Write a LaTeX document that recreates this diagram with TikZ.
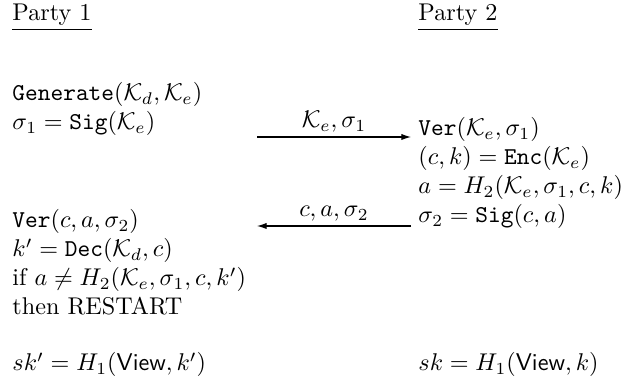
\documentclass[tikz,border=0pt]{standalone}
\usetikzlibrary{arrows.meta}
\tikzset{txt/.style={anchor=base west,inner sep=0pt},
  lbl/.style={anchor=base,inner sep=0pt},
  msg/.style={-{Latex[length=4pt,width=2.6pt]},line width=.45pt}}

\begin{document}
\begin{tikzpicture}[x=.4132pt,y=.4132pt,font=\normalsize]
  \useasboundingbox (0,0) rectangle (626,383);
  % column heads
  \node[txt] (p1) at (12,362) {\underline{Party 1}};
  \node[txt] (p2) at (418,362) {\underline{Party 2}};
  % party 1
  \node[txt] (gen) at (12,282) {$\texttt{Generate}(\mathcal{K}_d,\mathcal{K}_e)$};
  \node[txt] (sig1) at (12,253) {$\sigma_1=\texttt{Sig}(\mathcal{K}_e)$};
  \node[txt] (ver2) at (12,155) {$\texttt{Ver}(c,a,\sigma_2)$};
  \node[txt] (dec) at (12,126) {$k'=\texttt{Dec}(\mathcal{K}_d,c)$};
  \node[txt] (chk) at (12,97) {if $a\neq H_2(\mathcal{K}_e,\sigma_1,c,k')$};
  \node[txt] (rst) at (12,68) {then RESTART};
  \node[txt] (sk1) at (12,12) {$sk'=H_1(\textsf{View},k')$};
  % party 2
  \node[txt] (ver1) at (418,247) {$\texttt{Ver}(\mathcal{K}_e,\sigma_1)$};
  \node[txt] (enc) at (418,218) {$(c,k)=\texttt{Enc}(\mathcal{K}_e)$};
  \node[txt] (hsh) at (418,189) {$a=H_2(\mathcal{K}_e,\sigma_1,c,k)$};
  \node[txt] (sig2) at (418,160) {$\sigma_2=\texttt{Sig}(c,a)$};
  \node[txt] (sk2) at (418,12) {$sk=H_1(\textsf{View},k)$};
  % messages
  \coordinate (m1a) at (257,246); \coordinate (m1b) at (411,246);
  \coordinate (m2a) at (411,157); \coordinate (m2b) at (257,157);
  \draw[msg] (m1a) -- (m1b);
  \draw[msg] (m2a) -- (m2b);
  \node[lbl] (l1) at (334,255) {$\mathcal{K}_e,\sigma_1$};
  \node[lbl] (l2) at (334,166) {$c,a,\sigma_2$};
\end{tikzpicture}
\end{document}
